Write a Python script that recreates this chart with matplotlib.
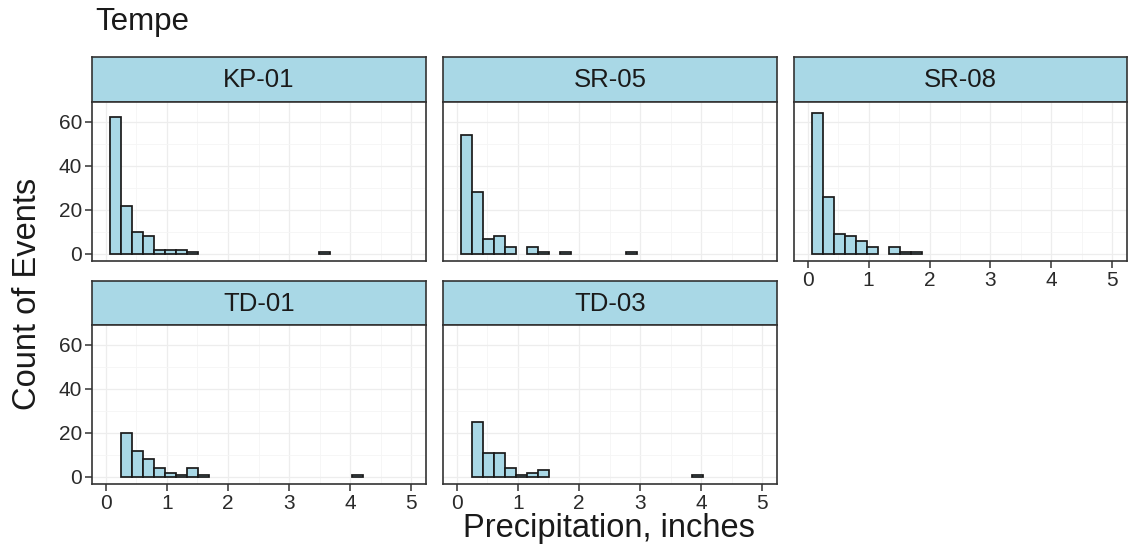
import numpy as np
import matplotlib
matplotlib.use("Agg")
import matplotlib.pyplot as plt
from matplotlib.ticker import MultipleLocator

plt.rcParams["font.family"] = ["Liberation Sans", "DejaVu Sans"]

# Histogram bins (inches): common start and width for every site
bin_start = 0.075
bin_width = 0.18
n_bins = 24

sites = ["KP-01", "SR-05", "SR-08", "TD-01", "TD-03"]

# Event counts per bin, listed from the first bin upward
kp01 = [62, 22, 10, 8, 2, 2, 2, 1, 0, 0, 0, 0, 0, 0, 0, 0, 0, 0, 0, 1]
sr05 = [54, 28, 7, 8, 3, 0, 3, 1, 0, 1, 0, 0, 0, 0, 0, 1]
sr08 = [64, 26, 9, 8, 6, 3, 0, 3, 1, 1]
td01 = [0, 20, 12, 8, 4, 2, 1, 4, 1, 0, 0, 0, 0, 0, 0, 0, 0, 0, 0, 0, 0, 0, 1]
td03 = [0, 25, 11, 11, 4, 1, 2, 3, 0, 0, 0, 0, 0, 0, 0, 0, 0, 0, 0, 0, 0, 1]

counts = {"KP-01": kp01, "SR-05": sr05, "SR-08": sr08, "TD-01": td01, "TD-03": td03}

x_ticks = [0, 1, 2, 3, 4, 5]
y_ticks = [0, 20, 40, 60]

title = "Tempe"
x_label = "Precipitation, inches"
y_label = "Count of Events"

W, H = 1128, 552
fig = plt.figure(figsize=(W / 100, H / 100), dpi=100)
fig.patch.set_facecolor("white")

fill = "#a9d8e6"
edge = "#1a1a1a"
frame = "#333333"


def px_axes(x0, y0, x1, y1):
    return fig.add_axes([x0 / W, 1 - y1 / H, (x1 - x0) / W, (y1 - y0) / H])


col_x = [(92, 426), (443, 777), (794, 1127)]
row_y = [(57, 102, 261), (281, 325, 484)]

positions = {
    "KP-01": (0, 0), "SR-05": (0, 1), "SR-08": (0, 2),
    "TD-01": (1, 0), "TD-03": (1, 1),
}

edges = bin_start + bin_width * np.arange(n_bins + 1)

for site in sites:
    r, c = positions[site]
    x0, x1 = col_x[c]
    s0, p0, p1 = row_y[r]

    # strip label
    sax = px_axes(x0, s0, x1, p0)
    sax.set_facecolor(fill)
    sax.set_xticks([])
    sax.set_yticks([])
    for sp in sax.spines.values():
        sp.set_color(frame)
        sp.set_linewidth(1.2)
    sax.text(0.5, 0.48, site, ha="center", va="center", fontsize=18.5,
             color="#1a1a1a", transform=sax.transAxes)

    ax = px_axes(x0, p0, x1, p1)
    ax.set_xlim(-0.224, 5.24)
    ax.set_ylim(-3.2, 69)
    ax.xaxis.set_major_locator(MultipleLocator(1))
    ax.xaxis.set_minor_locator(MultipleLocator(0.5))
    ax.yaxis.set_major_locator(MultipleLocator(20))
    ax.yaxis.set_minor_locator(MultipleLocator(10))
    ax.grid(True, which="major", color="#ededed", lw=0.9)
    ax.grid(True, which="minor", color="#f5f5f5", lw=0.6)
    ax.set_axisbelow(True)

    vals = np.zeros(n_bins)
    cs = counts[site]
    vals[:len(cs)] = cs
    mask = vals > 0
    ax.bar(edges[:-1][mask], vals[mask], width=bin_width, align="edge",
           color=fill, edgecolor=edge, linewidth=1.25, zorder=3)

    for sp in ax.spines.values():
        sp.set_color(frame)
        sp.set_linewidth(1.2)
        sp.set_zorder(4)

    ax.set_xticks(x_ticks)
    ax.set_yticks(y_ticks)
    ax.tick_params(which="minor", length=0)
    show_x = (r == 1) or (site == "SR-08")
    show_y = (c == 0)
    ax.tick_params(axis="x", which="major", length=5 if show_x else 0,
                   width=1.1, color="#333333", labelsize=15,
                   labelcolor="#2a2a2a", labelbottom=show_x, pad=2)
    ax.tick_params(axis="y", which="major", length=5 if show_y else 0,
                   width=1.1, color="#333333", labelsize=15,
                   labelcolor="#2a2a2a", labelleft=show_y, pad=2)

fig.text(95 / W, 1 - 22 / H, title, ha="left", va="center", fontsize=22.5,
         color="#1a1a1a")
fig.text(609 / W, 1 - 529 / H, x_label, ha="center", va="center",
         fontsize=23.5, color="#1a1a1a")
fig.text(28 / W, 1 - 294 / H, y_label, ha="center", va="center",
         rotation=90, fontsize=23.5, color="#1a1a1a")

fig.savefig("out.png", dpi=100, facecolor="white")
